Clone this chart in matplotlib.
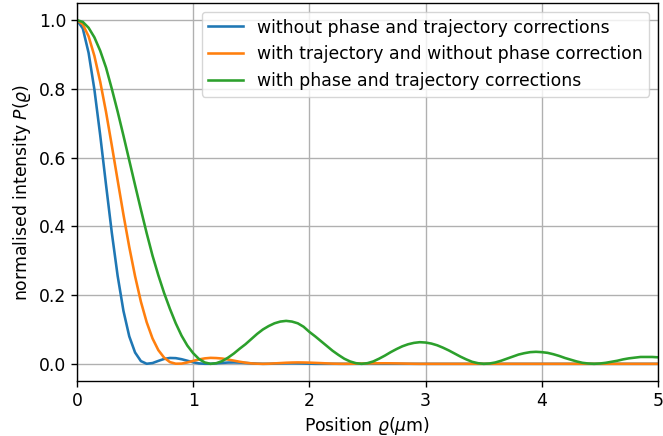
import numpy as np
import matplotlib
matplotlib.use("Agg")
import matplotlib.pyplot as plt

# sampling positions (micrometres), 0.05 step
rho = np.round(np.arange(0, 5.001, 0.05), 2)

# intensities, one value per position
noCorr = [1.0, 0.976, 0.905, 0.798, 0.665, 0.521, 0.381, 0.256, 0.154, 0.080,
	0.033, 0.008, 0.0002, 0.0023, 0.0085, 0.0143, 0.0171, 0.0166, 0.0135, 0.009,
	0.0046, 0.0013, 0.0002, 0.0002, 0.0015, 0.0027, 0.0038, 0.0041, 0.0036, 0.0026,
	0.0015, 0.0006, 0.0001, 0.0002, 0.0006, 0.0012, 0.0015, 0.0016, 0.0014, 0.001,
	0.0005] + [0.0] * 60

trajCorr = [1.0, 0.988, 0.953, 0.896, 0.821, 0.733, 0.635, 0.534, 0.434, 0.340,
	0.255, 0.181, 0.121, 0.074, 0.040, 0.018, 0.005, 0.0004, 0.0007, 0.004,
	0.0086, 0.0128, 0.0159, 0.0174, 0.0168, 0.0154, 0.0125, 0.0093, 0.0061, 0.0034,
	0.0013, 0.0004, 0.0, 0.0004, 0.0013, 0.0022, 0.0032, 0.0038, 0.0041, 0.0039,
	0.0035, 0.0028, 0.0021, 0.0013, 0.0006, 0.0002, 0.0, 0.0002, 0.0004, 0.0008,
	0.0011, 0.0014, 0.0016, 0.0016, 0.0015, 0.0012, 0.0009, 0.0005, 0.0002] + [0.0] * 42

bothCorr = [1.0, 0.995, 0.978, 0.95, 0.911, 0.862, 0.80, 0.734, 0.664, 0.592,
	0.52, 0.449, 0.38, 0.315, 0.258, 0.206, 0.16, 0.118, 0.082, 0.053,
	0.031, 0.014, 0.004, 0.0, 0.002, 0.008, 0.018, 0.03, 0.044, 0.057,
	0.072, 0.087, 0.10, 0.11, 0.118, 0.123, 0.125, 0.123, 0.118, 0.108,
	0.093, 0.08, 0.066, 0.052, 0.038, 0.026, 0.015, 0.007, 0.002, 0.0,
	0.002, 0.007, 0.015, 0.024, 0.034, 0.043, 0.051, 0.057, 0.061, 0.063,
	0.062, 0.059, 0.054, 0.047, 0.039, 0.03, 0.021, 0.013, 0.006, 0.002,
	0.0, 0.001, 0.004, 0.009, 0.015, 0.021, 0.027, 0.031, 0.034, 0.035,
	0.034, 0.032, 0.028, 0.023, 0.017, 0.012, 0.007, 0.003, 0.001, 0.0,
	0.001, 0.003, 0.006, 0.009, 0.013, 0.016, 0.018, 0.02, 0.02, 0.02,
	0.019]

seriesLabels = ['without phase and trajectory corrections',
	'with trajectory and without phase correction',
	'with phase and trajectory corrections']

################################################################################

sc = 1.24 # reference looks rendered a bit larger than default
plt.rcParams['font.size'] = 10 * sc
plt.rcParams['axes.linewidth'] = 0.8 * sc
plt.rcParams['grid.linewidth'] = 0.8 * sc
plt.rcParams['xtick.major.size'] = 3.5 * sc
plt.rcParams['ytick.major.size'] = 3.5 * sc
plt.rcParams['xtick.major.width'] = 0.8 * sc
plt.rcParams['ytick.major.width'] = 0.8 * sc

fig = plt.figure(figsize=(6.63, 4.36), dpi=100)
ax = fig.add_axes([0.1161, 0.1261, 0.8763, 0.867])

for ys, lbl in zip([noCorr, trajCorr, bothCorr], seriesLabels):
	ax.plot(rho, ys, linewidth=1.5 * sc, label=lbl)

ax.set_xlim(0, 5)
ax.set_ylim(-0.05, 1.05)
ax.grid(True)
ax.set_xlabel(r'Position $\varrho(\mu$m)')
ax.set_ylabel(r'normalised intensity $P(\varrho)$')
ax.legend(loc='upper right')

fig.savefig('out.png', dpi=100)
